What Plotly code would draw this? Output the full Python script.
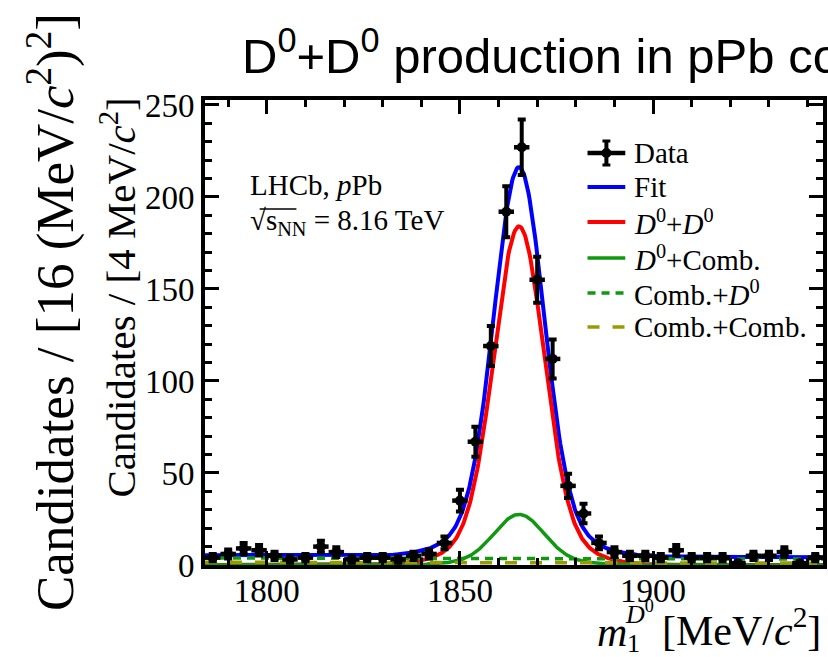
import numpy as np
import plotly.graph_objects as go

# ---- binned m1 data (4 MeV/c^2 bins) ----
bin_centers = [1786, 1790, 1794, 1798, 1802, 1806, 1810, 1814, 1818, 1822,
               1826, 1830, 1834, 1838, 1842, 1846, 1850, 1854, 1858, 1862,
               1866, 1870, 1874, 1878, 1882, 1886, 1890, 1894, 1898, 1902,
               1906, 1910, 1914, 1918, 1922, 1926, 1930, 1934, 1938, 1942]
counts = [4, 6, 9, 8, 5, 3, 4, 10, 7, 3,
          4, 4, 3, 5, 6, 12, 35, 67, 119, 192,
          227, 155, 112, 43, 28, 12, 7, 5, 5, 4,
          8, 4, 4, 4, 1, 5, 5, 7, 1, 4]
half_bin = 2.0

# ---- fit model parameters ----
fit_mean = 1865.3
core_sigma = 6.3
tail_sigma = 12.0
core_frac = 0.88
d0d0_height = 184.0
d0comb_height = 27.5
combd0_ends = [3.8, 3.2]
combcomb_ends = [1.5, 1.0]

x_range = [1784, 1944]
y_range = [0, 252.7]
x_ticks = [1800, 1850, 1900]
y_ticks = [0, 50, 100, 150, 200, 250]

legend_labels = ["Data", "Fit",
                 "<i>D</i><sup>0</sup>+<i>D</i><sup>0</sup>",
                 "<i>D</i><sup>0</sup>+Comb.",
                 "Comb.+<i>D</i><sup>0</sup>",
                 "Comb.+Comb."]

# ---- fit components ----
m = np.linspace(x_range[0], x_range[1], 641)
d = m - fit_mean
shape = core_frac * np.exp(-0.5 * (d / core_sigma) ** 2) + \
    (1 - core_frac) * np.exp(-0.5 * (d / tail_sigma) ** 2)
frac = (m - x_range[0]) / (x_range[1] - x_range[0])
sig_d0d0 = d0d0_height * shape
sig_d0comb = d0comb_height * shape
bkg_combd0 = combd0_ends[0] + (combd0_ends[1] - combd0_ends[0]) * frac
bkg_combcomb = combcomb_ends[0] + (combcomb_ends[1] - combcomb_ends[0]) * frac
total = sig_d0d0 + sig_d0comb + bkg_combd0 + bkg_combcomb

SERIF = "Liberation Serif, Times New Roman, serif"
SANS = "Liberation Sans, Arial, Helvetica, sans-serif"

BLUE = "#0000ff"
RED = "#ff0000"
GREEN = "#109910"
OLIVE = "#9a9a00"

styles = [
    dict(color=BLUE, width=4, dash="solid"),
    dict(color=RED, width=4, dash="solid"),
    dict(color=GREEN, width=3.5, dash="solid"),
    dict(color=GREEN, width=3.5, dash="8px,6px"),
    dict(color=OLIVE, width=3.5, dash="12px,13px"),
]
curves = [total, sig_d0d0, sig_d0comb, bkg_combd0, bkg_combcomb]

fig = go.Figure()
for yv, st, name in zip(curves, styles, legend_labels[1:]):
    fig.add_trace(go.Scatter(x=m, y=yv, mode="lines", name=name,
                             line=st, showlegend=False))
fig.add_trace(go.Scatter(
    x=bin_centers, y=counts, mode="markers", name="Data", showlegend=False,
    marker=dict(color="black", size=10, symbol="circle"),
    error_y=dict(type="data", array=np.sqrt(counts), color="black",
                 thickness=4, width=4),
    error_x=dict(type="constant", value=half_bin, color="black",
                 thickness=4.5, width=0),
    cliponaxis=False))

# plot-area geometry in pixels
L, R, T, B = 205, 827, 100, 565
W, H = 828, 657


def px(xp):
    return (xp - L) / (R - L)


def py(yp):
    return (B - yp) / (B - T)


axis_common = dict(
    showline=True, linewidth=4, linecolor="black", mirror="allticks",
    ticks="inside", ticklen=14, tickwidth=3, tickcolor="black",
    showgrid=False, zeroline=False,
    tickfont=dict(family=SERIF, size=33, color="black"),
)
fig.update_xaxes(range=x_range, tickvals=x_ticks, ticklabelstandoff=-7,
                 minor=dict(dtick=10, tick0=1780, ticks="inside", ticklen=7,
                            tickwidth=3, tickcolor="black"),
                 **axis_common)
fig.update_yaxes(range=y_range, tickvals=y_ticks,
                 minor=dict(dtick=10, tick0=0, ticks="inside", ticklen=7,
                            tickwidth=3, tickcolor="black"),
                 **axis_common)

annotations = [
    # page title
    dict(text="D<sup>0</sup>+D<sup>0</sup> production in pPb collisions",
         x=px(240), y=py(52), xanchor="left", yanchor="middle",
         font=dict(family=SANS, size=49, color="black")),
    # outer y title
    dict(text="Candidates / [16 (MeV/<i>c</i><sup>2</sup>)<sup>2</sup>]",
         x=px(50), y=py(312), xanchor="center", yanchor="middle",
         textangle=-90, font=dict(family=SERIF, size=53, color="black")),
    # inner y title
    dict(text="Candidates / [4 MeV/<i>c</i><sup>2</sup>]",
         x=px(117), y=py(96), xanchor="center", yanchor="top",
         textangle=-90, font=dict(family=SERIF, size=41, color="black")),
    # x title: m, stacked D0 / 1 indices, unit
    dict(text="[MeV/<i>c</i><sup>2</sup>]",
         x=px(827), y=py(627), xanchor="right", yanchor="middle",
         font=dict(family=SERIF, size=42, color="black")),
    dict(text="<i>m</i>", x=px(598), y=py(632), xanchor="left",
         yanchor="middle", font=dict(family=SERIF, size=42, color="black")),
    dict(text="<i>D</i><sup>0</sup>", x=px(626), y=py(612), xanchor="left",
         yanchor="middle", font=dict(family=SERIF, size=26, color="black")),
    dict(text="1", x=px(628), y=py(643), xanchor="left", yanchor="middle",
         font=dict(family=SERIF, size=26, color="black")),
    # experiment labels
    dict(text="LHCb, <i>p</i>Pb", x=px(248), y=py(185), xanchor="left",
         yanchor="middle", font=dict(family=SERIF, size=29, color="black")),
    dict(text="\u221as<sub>NN</sub> = 8.16 TeV",
         x=px(248), y=py(222), xanchor="left", yanchor="middle",
         font=dict(family=SERIF, size=29, color="black")),
]

shapes = [
    # bar of the square-root sign
    dict(type="line", x0=px(260), x1=px(297), y0=py(209), y1=py(209),
         line=dict(color="black", width=1.5)),
]

# legend drawn as text + line samples
leg_rows = [153, 187, 222, 258, 293, 327]
leg_x0, leg_x1, leg_text = 590, 628, 635
for i, (lab, yc) in enumerate(zip(legend_labels, leg_rows)):
    annotations.append(dict(text=lab, x=px(leg_text), y=py(yc),
                            xanchor="left", yanchor="middle",
                            font=dict(family=SERIF, size=29, color="black")))
    if i == 0:
        xc = (leg_x0 + leg_x1) / 2
        shapes += [
            dict(type="line", x0=px(leg_x0), x1=px(leg_x1), y0=py(yc), y1=py(yc),
                 line=dict(color="black", width=4.5)),
            dict(type="line", x0=px(xc), x1=px(xc), y0=py(yc - 12), y1=py(yc + 12),
                 line=dict(color="black", width=4)),
            dict(type="line", x0=px(xc - 4), x1=px(xc + 4), y0=py(yc - 12),
                 y1=py(yc - 12), line=dict(color="black", width=3)),
            dict(type="line", x0=px(xc - 4), x1=px(xc + 4), y0=py(yc + 12),
                 y1=py(yc + 12), line=dict(color="black", width=3)),
            dict(type="circle", x0=px(xc - 5), x1=px(xc + 5), y0=py(yc - 5),
                 y1=py(yc + 5), fillcolor="black", line=dict(width=0)),
        ]
    else:
        st = styles[i - 1]
        shapes.append(dict(type="line", x0=px(leg_x0), x1=px(leg_x1),
                           y0=py(yc), y1=py(yc),
                           line=dict(color=st["color"], width=st["width"],
                                     dash=st["dash"])))

for a in annotations:
    a.update(xref="paper", yref="paper", showarrow=False)
for s in shapes:
    s.update(xref="paper", yref="paper")

fig.update_layout(
    width=W, height=H,
    margin=dict(l=L, r=W - R, t=T, b=H - B, pad=0),
    paper_bgcolor="white", plot_bgcolor="white",
    annotations=annotations, shapes=shapes,
    showlegend=False,
)

fig.write_html("out.html")
